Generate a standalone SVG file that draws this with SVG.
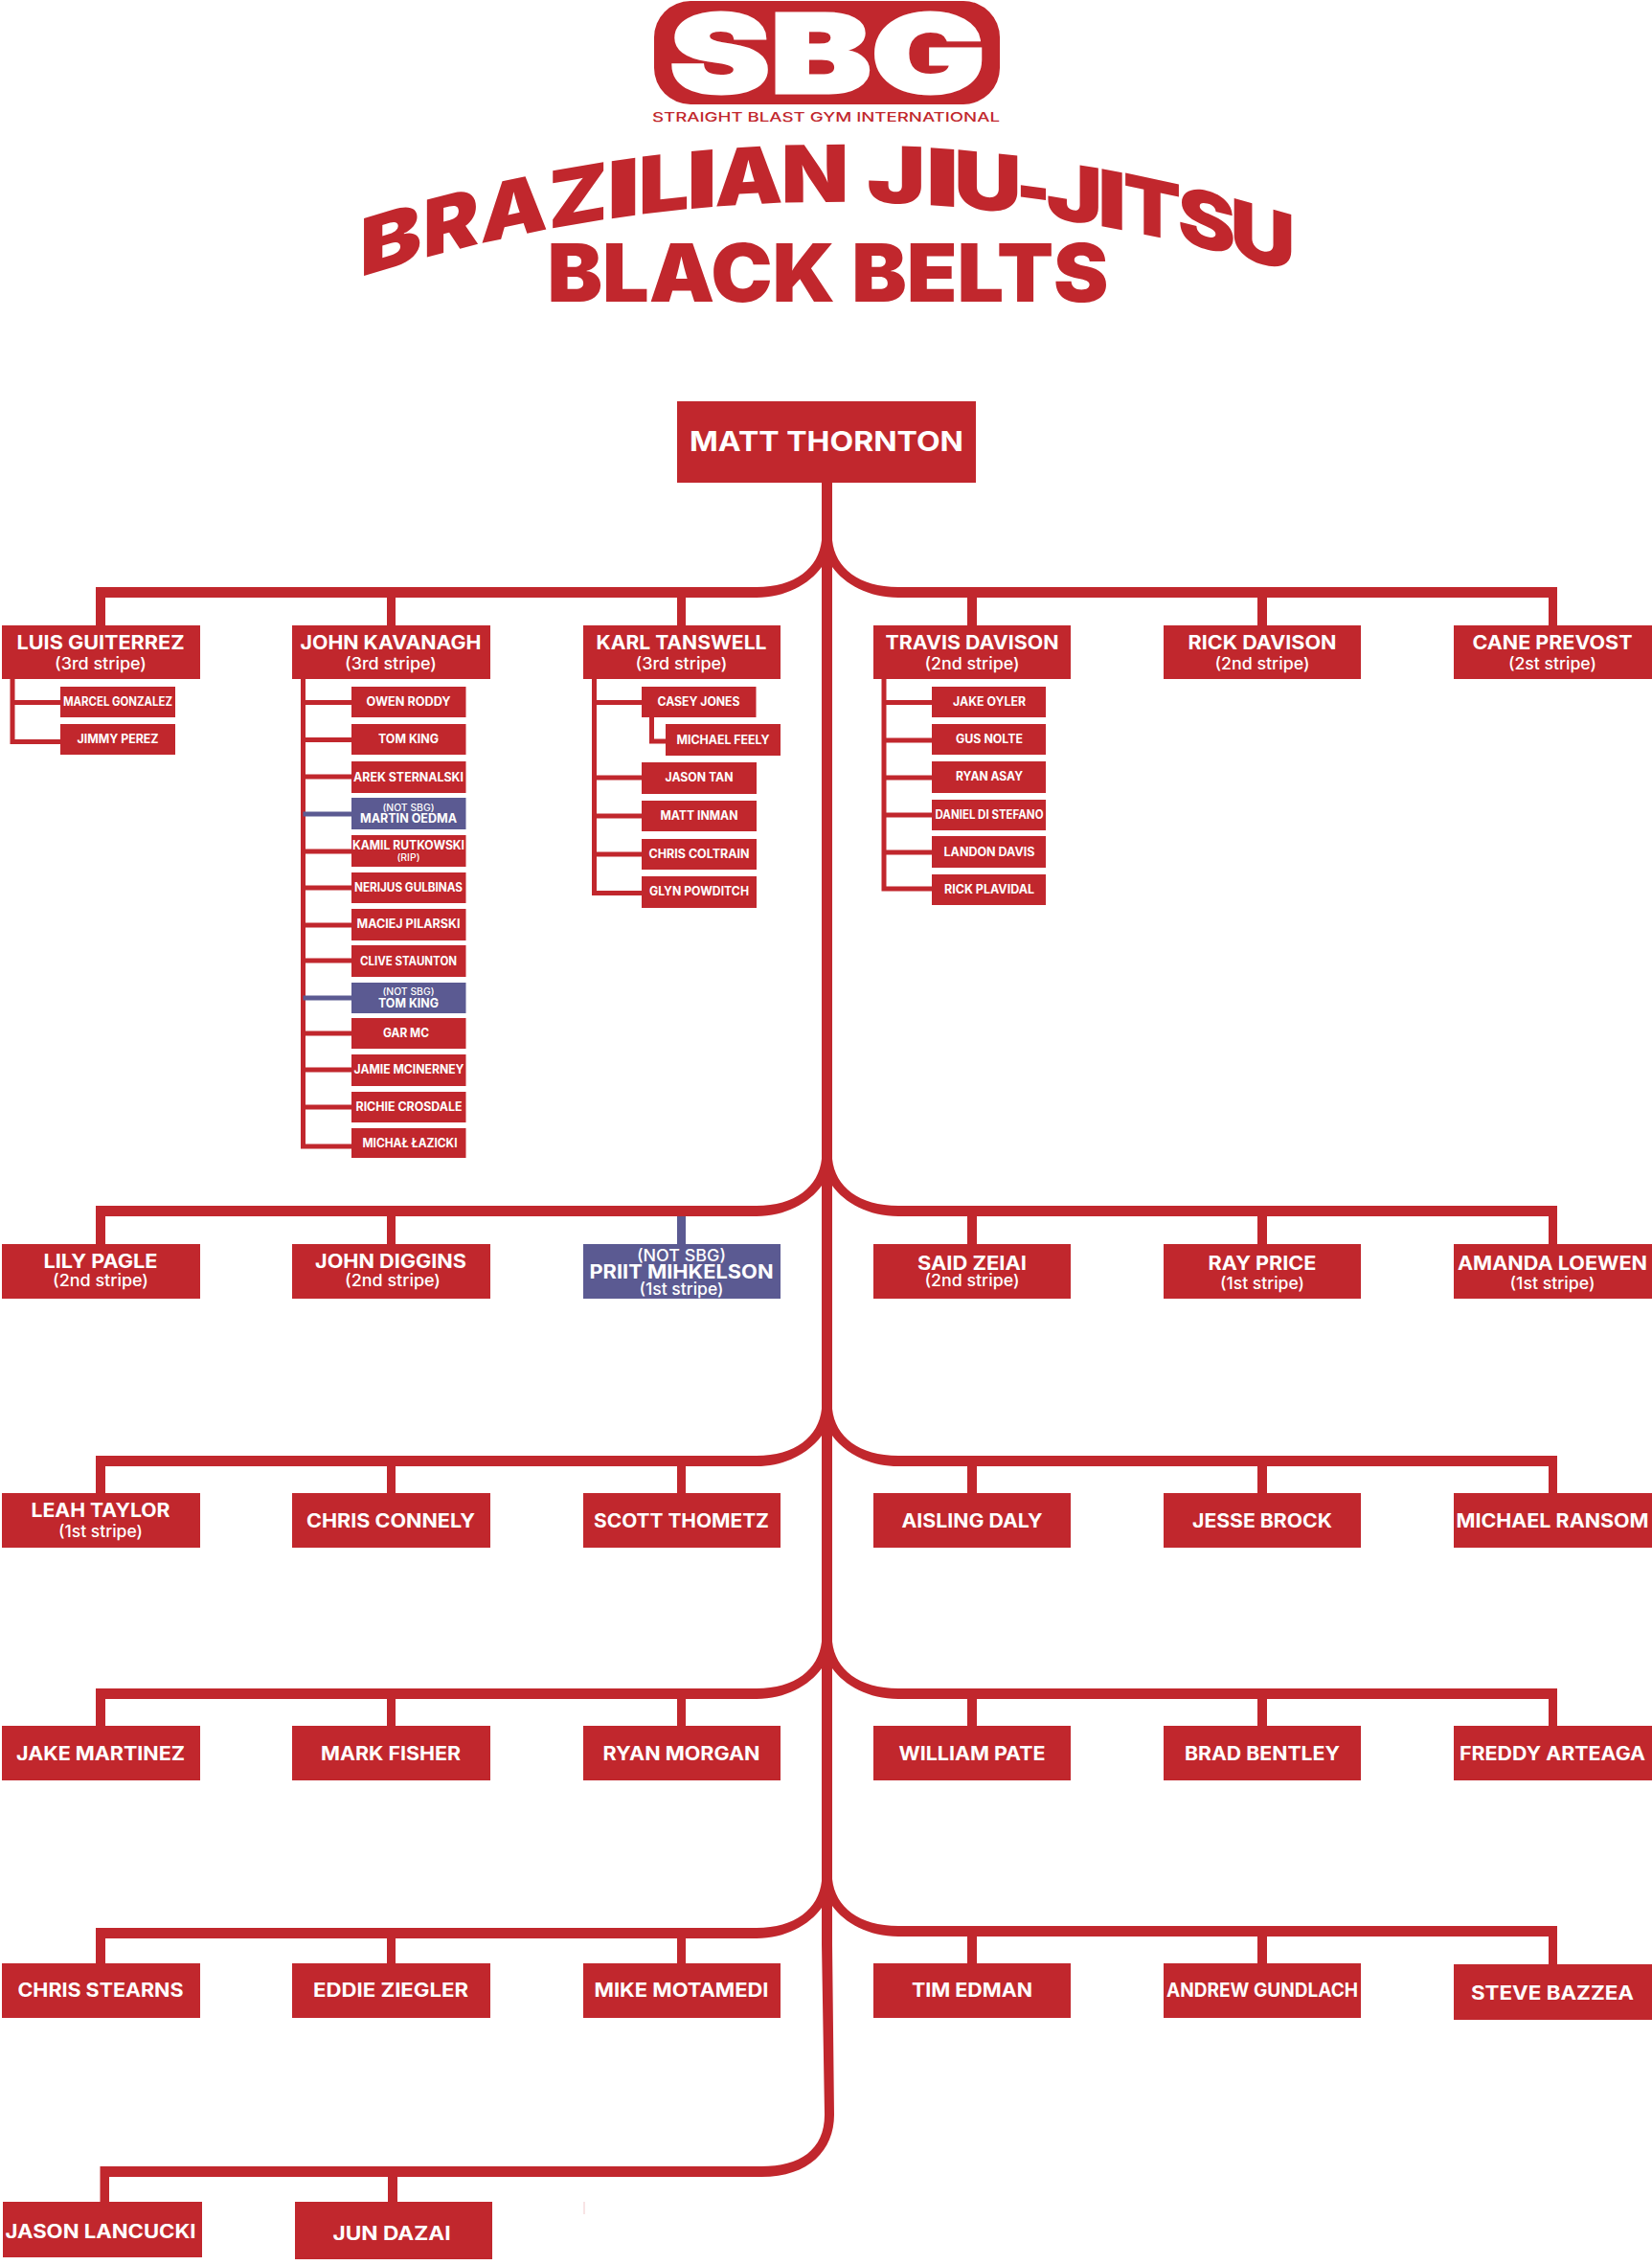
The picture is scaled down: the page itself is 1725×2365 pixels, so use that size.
<svg xmlns="http://www.w3.org/2000/svg" width="1725" height="2365" viewBox="0 0 1725 2365">
<style>
text{font-family:"Inter","Liberation Sans",sans-serif;text-anchor:middle;fill:#fff}
.r{fill:#c1272d}
.b{fill:#5b5a92}
.n{font-size:19.5px;font-weight:700;transform:translateY(1px)}
.s{font-size:17px;font-weight:500}
.k{font-size:12.5px;font-weight:700}
.t{font-size:10px;font-weight:500}
.T{fill:#c1272d;font-size:82.5px;font-weight:900}
.line{stroke:#c1272d;fill:none}
.thin{stroke-width:5}
</style>
<defs>
<path id="fl" class="r" d="M858 -49C855 -20 830 0 790 0L790 11C820 11 845 -3 858 -21Z"/>
<path id="fr" class="r" d="M869 -49C872 -20 897 0 938 0L938 11C907 11 882 -3 869 -21Z"/>
</defs>
<rect width="1725" height="2365" fill="#fff"/>
<g id="logo">
<rect class="r" x="683" y="1" width="361" height="108" rx="38"/>
<text x="864" y="97" style="font-size:114px;font-weight:900;stroke:#fff;stroke-width:3px" textLength="330" lengthAdjust="spacingAndGlyphs">SBG</text>
<text x="862.500" y="127" style="fill:#c1272d;font-size:13.500px;font-weight:500" textLength="363" lengthAdjust="spacingAndGlyphs">STRAIGHT BLAST GYM INTERNATIONAL</text>
</g>
<g id="title">
<text class="T" transform="matrix(1.18,-.35,0,1,408,279.5)">B</text>
<text class="T" transform="matrix(1.06,-.2716,0,1,471,262.1)">R</text>
<text class="T" transform="matrix(1.08,-.2309,0,1,537,246.6)">A</text>
<text class="T" transform="matrix(1.08,-.1847,0,1,603.6,233.8)">Z</text>
<text class="T" transform="matrix(1.5,-.2109,0,1,651,226.4)">I</text>
<text class="T" transform="matrix(1.14,-.1295,0,1,693,221.1)">L</text>
<text class="T" transform="matrix(1.35,-.1188,0,1,733,217)">I</text>
<text class="T" transform="matrix(1.09,-.0616,0,1,782,213.5)">A</text>
<text class="T" transform="matrix(1.11,-.0135,0,1,851,211.1)">N</text>
<text class="T" transform="matrix(1.25,.0494,0,1,936,212.2)">J</text>
<text class="T" transform="matrix(1.5,.1078,0,1,984,215)">I</text>
<text class="T" transform="matrix(1.19,.1234,0,1,1031.5,219.4)">U</text>
<text class="T" transform="matrix(.93,.1248,0,1,1079,225)">-</text>
<text class="T" transform="matrix(1.2,.1942,0,1,1122,231.4)">J</text>
<text class="T" transform="matrix(1.3,.2428,0,1,1161,238.2)">I</text>
<text class="T" transform="matrix(1.07,.2288,0,1,1203,246.6)">T</text>
<text class="T" transform="matrix(1.1,.2754,0,1,1260,259.8)">S</text>
<text class="T" transform="matrix(1.15,.3311,0,1,1318.5,275.6)">U</text>
<text class="T" x="864.500" y="315" style="font-size:84px" textLength="586" lengthAdjust="spacingAndGlyphs">BLACK BELTS</text>
</g>
<g id="connectors">
<path class="r" d="M858 504H869V2030L871 2208C871 2245 845 2273 795 2273H114V2299H104.500V2262H795C835 2262 861 2245 861 2208L858 2030Z"/>
<rect class="r" x="405" y="2273" width="10" height="26"/>
<rect x="609.500" y="2299" width="1" height="13" fill="#f2c9cb"/>
<use href="#fl" y="613"/><use href="#fr" y="613"/>
<use href="#fl" y="1259"/><use href="#fr" y="1259"/>
<use href="#fl" y="1520"/><use href="#fr" y="1520"/>
<use href="#fl" y="1763"/><use href="#fr" y="1763"/>
<use href="#fl" y="2013"/><use href="#fr" y="2011"/>
<path class="r" d="M100 613H790V624H100ZM938 613H1626V624H938ZM100 1259H790V1270H100ZM938 1259H1626V1270H938ZM100 1520H790V1531H100ZM938 1520H1626V1531H938ZM100 1763H790V1774H100ZM938 1763H1626V1774H938ZM100 2013H790V2024H100ZM938 2011H1626V2022H938Z"/>
<path class="r" d="M100 613h10v40h-10zM404 613h9v40h-9zM707 613h9v40h-9zM1010 613h10v40h-10zM1313 613h10v40h-10zM1617 613h9v40h-9z"/>
<path class="r" d="M100 1259h10v40h-10zM404 1259h9v40h-9zM1010 1259h10v40h-10zM1313 1259h10v40h-10zM1617 1259h9v40h-9z"/>
<rect class="b" x="707" y="1270" width="9" height="29"/>
<path class="r" d="M100 1520h10v39h-10zM404 1520h9v39h-9zM707 1520h9v39h-9zM1010 1520h10v39h-10zM1313 1520h10v39h-10zM1617 1520h9v39h-9z"/>
<path class="r" d="M100 1763h10v39h-10zM404 1763h9v39h-9zM707 1763h9v39h-9zM1010 1763h10v39h-10zM1313 1763h10v39h-10zM1617 1763h9v39h-9z"/>
<path class="r" d="M100 2013h10v37h-10zM404 2013h9v37h-9zM707 2013h9v37h-9zM1010 2011h10v39h-10zM1313 2011h10v39h-10zM1617 2011h9v40h-9z"/>
<path class="line thin" d="M13 709V774.500H63M13 733.500H63"/>
<path class="line thin" d="M316.500 709V1197H367M316.500 733.500H367M316.500 772.500H367M316.500 811H367M316.500 889H367M316.500 927H367M316.500 966H367M316.500 1003H367M316.500 1079H367M316.500 1117H367M316.500 1156H367"/>
<path class="line thin" d="M316.500 850H367M316.500 1042H367" style="stroke:#5b5a92"/>
<path class="line thin" d="M620.500 709V932.500H670M620.500 733.500H670M620.500 812H670M620.500 852H670M620.500 892H670M680.500 749V774H695"/>
<path class="line thin" d="M923 709V928H973M923 733.500H973M923 773H973M923 812H973M923 851H973M923 890H973"/>
</g>
<g id="n-matt"><rect class="r" x="707" y="419" width="312" height="85"/><text x="863" y="471" style="font-size:29px;font-weight:700" textLength="286" lengthAdjust="spacingAndGlyphs">MATT THORNTON</text></g>

<g id="n-luis"><rect class="r" x="2" y="653" width="207" height="56"/><text class="n" x="105" y="677" textLength="175" lengthAdjust="spacingAndGlyphs">LUIS GUITERREZ</text><text class="s" x="105" y="699" textLength="96" lengthAdjust="spacingAndGlyphs">(3rd stripe)</text></g>
<g id="n-john-k"><rect class="r" x="305" y="653" width="207" height="56"/><text class="n" x="408" y="677" textLength="189" lengthAdjust="spacingAndGlyphs">JOHN KAVANAGH</text><text class="s" x="408" y="699" textLength="96" lengthAdjust="spacingAndGlyphs">(3rd stripe)</text></g>
<g id="n-karl"><rect class="r" x="609" y="653" width="206" height="56"/><text class="n" x="711.500" y="677" textLength="178" lengthAdjust="spacingAndGlyphs">KARL TANSWELL</text><text class="s" x="711.500" y="699" textLength="96" lengthAdjust="spacingAndGlyphs">(3rd stripe)</text></g>
<g id="n-travis"><rect class="r" x="912" y="653" width="206" height="56"/><text class="n" x="1015" y="677" textLength="181" lengthAdjust="spacingAndGlyphs">TRAVIS DAVISON</text><text class="s" x="1015" y="699" textLength="99" lengthAdjust="spacingAndGlyphs">(2nd stripe)</text></g>
<g id="n-rick"><rect class="r" x="1215" y="653" width="206" height="56"/><text class="n" x="1318" y="677" textLength="155" lengthAdjust="spacingAndGlyphs">RICK DAVISON</text><text class="s" x="1318" y="699" textLength="99" lengthAdjust="spacingAndGlyphs">(2nd stripe)</text></g>
<g id="n-cane"><rect class="r" x="1518" y="653" width="207" height="56"/><text class="n" x="1621" y="677" textLength="167" lengthAdjust="spacingAndGlyphs">CANE PREVOST</text><text class="s" x="1621" y="699" textLength="92" lengthAdjust="spacingAndGlyphs">(2st stripe)</text></g>

<g id="c-marcel"><rect class="r" x="63" y="717" width="120" height="32"/><text class="k" x="123" y="737" textLength="114" lengthAdjust="spacingAndGlyphs">MARCEL GONZALEZ</text></g>
<g id="c-jimmy"><rect class="r" x="63" y="756" width="120" height="32"/><text class="k" x="123" y="776" textLength="85" lengthAdjust="spacingAndGlyphs">JIMMY PEREZ</text></g>

<g id="c-owen"><rect class="r" x="367" y="717" width="119.500" height="32"/><text class="k" x="426.500" y="737" textLength="88" lengthAdjust="spacingAndGlyphs">OWEN RODDY</text></g>
<g id="c-tom1"><rect class="r" x="367" y="756" width="119.500" height="32"/><text class="k" x="426.500" y="776" textLength="63" lengthAdjust="spacingAndGlyphs">TOM KING</text></g>
<g id="c-arek"><rect class="r" x="367" y="795" width="119.500" height="33"/><text class="k" x="426.500" y="816" textLength="115" lengthAdjust="spacingAndGlyphs">AREK STERNALSKI</text></g>
<g id="c-martin"><rect class="b" x="367" y="833" width="119.500" height="33"/><text class="t" x="426.500" y="847" textLength="54" lengthAdjust="spacingAndGlyphs">(NOT SBG)</text><text class="k" x="426.500" y="859" textLength="101" lengthAdjust="spacingAndGlyphs">MARTIN OEDMA</text></g>
<g id="c-kamil"><rect class="r" x="367" y="872" width="119.500" height="33"/><text class="k" x="426.500" y="887" textLength="117" lengthAdjust="spacingAndGlyphs">KAMIL RUTKOWSKI</text><text class="t" x="426.500" y="899" textLength="24" lengthAdjust="spacingAndGlyphs">(RIP)</text></g>
<g id="c-nerijus"><rect class="r" x="367" y="911" width="119.500" height="32"/><text class="k" x="426.500" y="931" textLength="113" lengthAdjust="spacingAndGlyphs">NERIJUS GULBINAS</text></g>
<g id="c-maciej"><rect class="r" x="367" y="949" width="119.500" height="33"/><text class="k" x="426.500" y="969" textLength="108" lengthAdjust="spacingAndGlyphs">MACIEJ PILARSKI</text></g>
<g id="c-clive"><rect class="r" x="367" y="987" width="119.500" height="33"/><text class="k" x="426.500" y="1008" textLength="101" lengthAdjust="spacingAndGlyphs">CLIVE STAUNTON</text></g>
<g id="c-tom2"><rect class="b" x="367" y="1026" width="119.500" height="32"/><text class="t" x="426.500" y="1039" textLength="54" lengthAdjust="spacingAndGlyphs">(NOT SBG)</text><text class="k" x="426.500" y="1052" textLength="63" lengthAdjust="spacingAndGlyphs">TOM KING</text></g>
<g id="c-gar"><rect class="r" x="367" y="1063" width="119.500" height="32"/><text class="k" x="424" y="1083" textLength="48" lengthAdjust="spacingAndGlyphs">GAR MC</text></g>
<g id="c-jamie"><rect class="r" x="367" y="1101" width="119.500" height="33"/><text class="k" x="427" y="1121" textLength="115" lengthAdjust="spacingAndGlyphs">JAMIE MCINERNEY</text></g>
<g id="c-richie"><rect class="r" x="367" y="1140" width="119.500" height="32"/><text class="k" x="427" y="1160" textLength="111" lengthAdjust="spacingAndGlyphs">RICHIE CROSDALE</text></g>
<g id="c-michal"><rect class="r" x="367" y="1178" width="119.500" height="31"/><text class="k" x="428" y="1198" textLength="99" lengthAdjust="spacingAndGlyphs">MICHAŁ ŁAZICKI</text></g>

<g id="c-casey"><rect class="r" x="670" y="717" width="119.500" height="32"/><text class="k" x="729.500" y="737" textLength="86" lengthAdjust="spacingAndGlyphs">CASEY JONES</text></g>
<g id="c-feely"><rect class="r" x="695" y="756" width="120" height="33"/><text class="k" x="755" y="777" textLength="97" lengthAdjust="spacingAndGlyphs">MICHAEL FEELY</text></g>
<g id="c-jason-t"><rect class="r" x="670" y="796" width="120" height="33"/><text class="k" x="730" y="816" textLength="71" lengthAdjust="spacingAndGlyphs">JASON TAN</text></g>
<g id="c-inman"><rect class="r" x="670" y="836" width="120" height="32"/><text class="k" x="730" y="856" textLength="81" lengthAdjust="spacingAndGlyphs">MATT INMAN</text></g>
<g id="c-coltrain"><rect class="r" x="670" y="876" width="120" height="32"/><text class="k" x="730" y="896" textLength="105" lengthAdjust="spacingAndGlyphs">CHRIS COLTRAIN</text></g>
<g id="c-glyn"><rect class="r" x="670" y="915" width="120" height="33"/><text class="k" x="730" y="935" textLength="104" lengthAdjust="spacingAndGlyphs">GLYN POWDITCH</text></g>

<g id="c-jake-o"><rect class="r" x="973" y="717" width="119" height="32"/><text class="k" x="1033" y="737" textLength="76" lengthAdjust="spacingAndGlyphs">JAKE OYLER</text></g>
<g id="c-gus"><rect class="r" x="973" y="756" width="119" height="32"/><text class="k" x="1033" y="776" textLength="70" lengthAdjust="spacingAndGlyphs">GUS NOLTE</text></g>
<g id="c-ryan-a"><rect class="r" x="973" y="795" width="119" height="33"/><text class="k" x="1033" y="815" textLength="70" lengthAdjust="spacingAndGlyphs">RYAN ASAY</text></g>
<g id="c-daniel"><rect class="r" x="973" y="835" width="119" height="32"/><text class="k" x="1033" y="855" textLength="113" lengthAdjust="spacingAndGlyphs">DANIEL DI STEFANO</text></g>
<g id="c-landon"><rect class="r" x="973" y="873" width="119" height="33"/><text class="k" x="1033" y="894" textLength="95" lengthAdjust="spacingAndGlyphs">LANDON DAVIS</text></g>
<g id="c-plavidal"><rect class="r" x="973" y="913" width="119" height="32"/><text class="k" x="1033" y="933" textLength="94" lengthAdjust="spacingAndGlyphs">RICK PLAVIDAL</text></g>

<g id="n-lily"><rect class="r" x="2" y="1299" width="207" height="57"/><text class="n" x="105" y="1323" textLength="119" lengthAdjust="spacingAndGlyphs">LILY PAGLE</text><text class="s" x="105" y="1343" textLength="100" lengthAdjust="spacingAndGlyphs">(2nd stripe)</text></g>
<g id="n-diggins"><rect class="r" x="305" y="1299" width="207" height="57"/><text class="n" x="408" y="1323" textLength="158" lengthAdjust="spacingAndGlyphs">JOHN DIGGINS</text><text class="s" x="410" y="1343" textLength="100" lengthAdjust="spacingAndGlyphs">(2nd stripe)</text></g>
<g id="n-priit"><rect class="b" x="609" y="1299" width="206" height="57"/><text class="s" x="711.500" y="1317" textLength="93" lengthAdjust="spacingAndGlyphs">(NOT SBG)</text><text class="n" x="711.500" y="1334" textLength="192" lengthAdjust="spacingAndGlyphs">PRIIT MIHKELSON</text><text class="s" x="711.500" y="1352" textLength="88" lengthAdjust="spacingAndGlyphs">(1st stripe)</text></g>
<g id="n-said"><rect class="r" x="912" y="1299" width="206" height="57"/><text class="n" x="1015" y="1325" textLength="114" lengthAdjust="spacingAndGlyphs">SAID ZEIAI</text><text class="s" x="1015" y="1343" textLength="99" lengthAdjust="spacingAndGlyphs">(2nd stripe)</text></g>
<g id="n-ray"><rect class="r" x="1215" y="1299" width="206" height="57"/><text class="n" x="1318" y="1325" textLength="113" lengthAdjust="spacingAndGlyphs">RAY PRICE</text><text class="s" x="1318" y="1346" textLength="88" lengthAdjust="spacingAndGlyphs">(1st stripe)</text></g>
<g id="n-amanda"><rect class="r" x="1518" y="1299" width="207" height="57"/><text class="n" x="1621" y="1325" textLength="198" lengthAdjust="spacingAndGlyphs">AMANDA LOEWEN</text><text class="s" x="1621" y="1346" textLength="89" lengthAdjust="spacingAndGlyphs">(1st stripe)</text></g>

<g id="n-leah"><rect class="r" x="2" y="1559" width="207" height="57"/><text class="n" x="105" y="1583" textLength="145" lengthAdjust="spacingAndGlyphs">LEAH TAYLOR</text><text class="s" x="105" y="1605" textLength="88" lengthAdjust="spacingAndGlyphs">(1st stripe)</text></g>
<g id="n-connely"><rect class="r" x="305" y="1559" width="207" height="57"/><text class="n" x="408" y="1594" textLength="176" lengthAdjust="spacingAndGlyphs">CHRIS CONNELY</text></g>
<g id="n-thometz"><rect class="r" x="609" y="1559" width="206" height="57"/><text class="n" x="711.500" y="1594" textLength="183" lengthAdjust="spacingAndGlyphs">SCOTT THOMETZ</text></g>
<g id="n-aisling"><rect class="r" x="912" y="1559" width="206" height="57"/><text class="n" x="1015" y="1594" textLength="147" lengthAdjust="spacingAndGlyphs">AISLING DALY</text></g>
<g id="n-jesse"><rect class="r" x="1215" y="1559" width="206" height="57"/><text class="n" x="1318" y="1594" textLength="146" lengthAdjust="spacingAndGlyphs">JESSE BROCK</text></g>
<g id="n-ransom"><rect class="r" x="1518" y="1559" width="207" height="57"/><text class="n" x="1621" y="1594" textLength="201" lengthAdjust="spacingAndGlyphs">MICHAEL RANSOM</text></g>

<g id="n-jake-m"><rect class="r" x="2" y="1802" width="207" height="57"/><text class="n" x="105" y="1837" textLength="176" lengthAdjust="spacingAndGlyphs">JAKE MARTINEZ</text></g>
<g id="n-fisher"><rect class="r" x="305" y="1802" width="207" height="57"/><text class="n" x="408" y="1837" textLength="146" lengthAdjust="spacingAndGlyphs">MARK FISHER</text></g>
<g id="n-morgan"><rect class="r" x="609" y="1802" width="206" height="57"/><text class="n" x="711.500" y="1837" textLength="164" lengthAdjust="spacingAndGlyphs">RYAN MORGAN</text></g>
<g id="n-pate"><rect class="r" x="912" y="1802" width="206" height="57"/><text class="n" x="1015" y="1837" textLength="153" lengthAdjust="spacingAndGlyphs">WILLIAM PATE</text></g>
<g id="n-bentley"><rect class="r" x="1215" y="1802" width="206" height="57"/><text class="n" x="1318" y="1837" textLength="162" lengthAdjust="spacingAndGlyphs">BRAD BENTLEY</text></g>
<g id="n-freddy"><rect class="r" x="1518" y="1802" width="207" height="57"/><text class="n" x="1621" y="1837" textLength="194" lengthAdjust="spacingAndGlyphs">FREDDY ARTEAGA</text></g>

<g id="n-stearns"><rect class="r" x="2" y="2050" width="207" height="57"/><text class="n" x="105" y="2084" textLength="173" lengthAdjust="spacingAndGlyphs">CHRIS STEARNS</text></g>
<g id="n-ziegler"><rect class="r" x="305" y="2050" width="207" height="57"/><text class="n" x="408" y="2084" textLength="162" lengthAdjust="spacingAndGlyphs">EDDIE ZIEGLER</text></g>
<g id="n-motamedi"><rect class="r" x="609" y="2050" width="206" height="57"/><text class="n" x="711.500" y="2084" textLength="182" lengthAdjust="spacingAndGlyphs">MIKE MOTAMEDI</text></g>
<g id="n-edman"><rect class="r" x="912" y="2050" width="206" height="57"/><text class="n" x="1015" y="2084" textLength="126" lengthAdjust="spacingAndGlyphs">TIM EDMAN</text></g>
<g id="n-gundlach"><rect class="r" x="1215" y="2050" width="206" height="57"/><text class="n" x="1318" y="2084" textLength="200" lengthAdjust="spacingAndGlyphs">ANDREW GUNDLACH</text></g>
<g id="n-bazzea"><rect class="r" x="1518" y="2051" width="207" height="58"/><text class="n" x="1621" y="2087" textLength="170" lengthAdjust="spacingAndGlyphs">STEVE BAZZEA</text></g>

<g id="n-lancucki"><rect class="r" x="3" y="2299" width="208" height="58"/><text class="n" x="105" y="2336" textLength="199" lengthAdjust="spacingAndGlyphs">JASON LANCUCKI</text></g>
<g id="n-dazai"><rect class="r" x="308" y="2299" width="206" height="60"/><text class="n" x="409" y="2338" textLength="123" lengthAdjust="spacingAndGlyphs">JUN DAZAI</text></g>
</svg>
